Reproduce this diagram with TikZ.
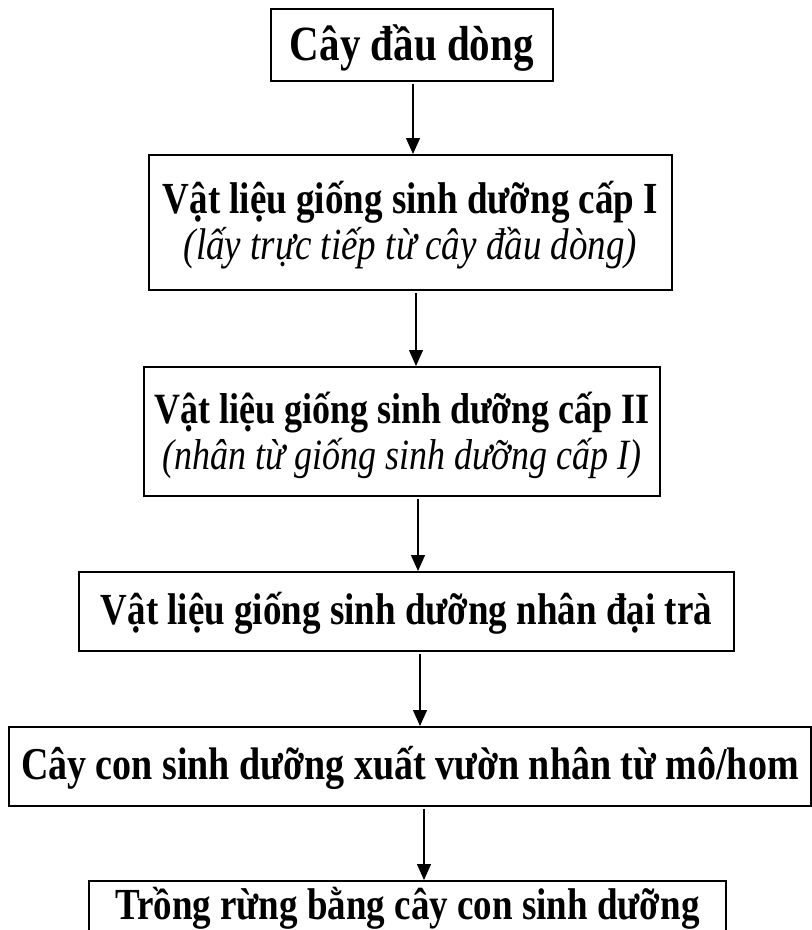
\documentclass[tikz,border=0pt]{standalone}
\usepackage{fontspec}
\setmainfont{Liberation Serif}
\usetikzlibrary{arrows.meta}
\newcommand{\stretchtxt}[1]{\scalebox{1}[1.2]{#1}}
\newcommand{\lowertxt}[2]{\raisebox{#1}[\height][\depth]{#2}}
\tikzset{
  flowbox/.style={draw=black, line width=1.8pt, inner sep=0pt, anchor=north west,
    font=\fontsize{37pt}{38.5pt}\selectfont, align=center},
  flowarrow/.style={draw=black, line width=1.3pt, -{Triangle[length=16pt,width=14pt]},
    shorten <=2pt}
}
\begin{document}
\begin{tikzpicture}[x=1pt,y=-1pt]
\useasboundingbox (0,0) rectangle (812,930);
\clip (0,0) rectangle (812,930);
\fill[white] (0,0) rectangle (812,930);

\node[flowbox, minimum width=282pt, minimum height=72pt,
  font=\fontsize{41pt}{43pt}\selectfont] (b1) at (270,8)
  {\lowertxt{-3pt}{\stretchtxt{\textbf{Cây đầu dòng}}}};
\node[flowbox, minimum width=523pt, minimum height=135pt] (b2) at (148,154)
  {\lowertxt{-5pt}{\stretchtxt{\begin{tabular}{@{}c@{}}\textbf{Vật liệu giống sinh dưỡng cấp I}\\ \textit{(lấy trực tiếp từ cây đầu dòng)}\end{tabular}}}};
\node[flowbox, minimum width=516pt, minimum height=129pt,
  font=\fontsize{36pt}{38pt}\selectfont] (b3) at (143,366)
  {\lowertxt{-6pt}{\stretchtxt{\begin{tabular}{@{}c@{}}\textbf{Vật liệu giống sinh dưỡng cấp II}\\ \textit{(nhân từ giống sinh dưỡng cấp I)}\end{tabular}}}};
\node[flowbox, minimum width=655pt, minimum height=79pt] (b4) at (78,571)
  {\lowertxt{-2pt}{\stretchtxt{\textbf{Vật liệu giống sinh dưỡng nhân đại trà}}}};
\node[flowbox, minimum width=802pt, minimum height=79pt,
  font=\fontsize{38pt}{40pt}\selectfont] (b5) at (8,726)
  {\lowertxt{-2pt}{\stretchtxt{\textbf{Cây con sinh dưỡng xuất vườn nhân từ mô/hom}}}};
\node[flowbox, minimum width=637pt, minimum height=64pt] (b6) at (88,880)
  {\lowertxt{5pt}{\stretchtxt{\textbf{Trồng rừng bằng cây con sinh dưỡng}}}};

\coordinate (x1) at (413,0);
\coordinate (x2) at (416,0);
\coordinate (x3) at (418,0);
\coordinate (x4) at (420,0);
\coordinate (x5) at (424,0);

\draw[flowarrow] (b1.south -| x1) -- (b2.north -| x1);
\draw[flowarrow] (b2.south -| x2) -- (b3.north -| x2);
\draw[flowarrow] (b3.south -| x3) -- (b4.north -| x3);
\draw[flowarrow] (b4.south -| x4) -- (b5.north -| x4);
\draw[flowarrow] (b5.south -| x5) -- (b6.north -| x5);
\end{tikzpicture}
\end{document}
